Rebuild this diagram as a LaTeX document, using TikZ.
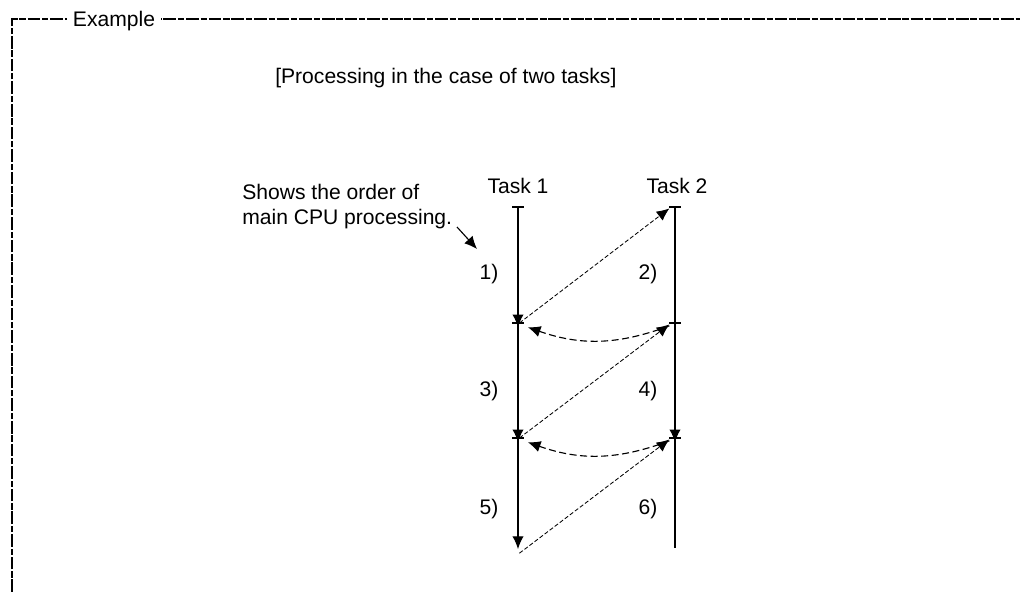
\documentclass[tikz,border=0pt]{standalone}
\usepackage{fontspec}
\setmainfont{Liberation Sans}
\usetikzlibrary{arrows.meta}

\begin{document}
\begin{tikzpicture}[x=0.025cm, y=-0.025cm, >={Latex[length=9pt,width=8pt]},
    txt/.style={font=\fontsize{15}{17.7}\selectfont, inner sep=0pt},
    frameline/.style={line width=1.1pt, dash pattern=on 9pt off 1.3pt on 4.5pt off 1.3pt},
    handoff/.style={->, dash pattern=on 3pt off 1.5pt, line width=0.6pt},
    swap/.style={->, dash pattern=on 5pt off 2.5pt, line width=0.8pt},
    tick/.style={line width=0.8pt}]
    \useasboundingbox (0,0) rectangle (1020,592);

    % Rahmen mit Titel
    \coordinate (fa) at (12,19);
    \coordinate (fb) at (1020,19);
    \coordinate (fc) at (12,592);
    \draw[frameline] (fc) -- (fa) -- (fb);
    \node[txt, anchor=base, fill=white, inner xsep=4pt, inner ysep=2pt] (title) at (114,26) {Example};

    % Ueberschrift
    \node[txt, anchor=base west] (head) at (275,83) {[Processing in the case of two tasks]};

    % Erlaeuterung mit Pfeil
    \node[txt, anchor=base west, align=left] (note) at (242,224) {Shows the order of\\main CPU processing.};
    \coordinate (na) at (457,227);
    \coordinate (nb) at (477,249);
    \draw[->, line width=0.8pt] (na) -- (nb);

    % Spaltenkoepfe
    \node[txt, anchor=base] (task1) at (518,193) {Task 1};
    \node[txt, anchor=base] (task2) at (677,193) {Task 2};

    % Zeitpunkte der beiden Tasks
    \foreach \n/\y in {a/207, b/323, c/438} {
        \coordinate (t1\n) at (518,\y);
        \coordinate (t2\n) at (675,\y);
        \draw[tick] (512,\y) -- (524,\y);
        \draw[tick] (669,\y) -- (681,\y);
    }
    \coordinate (t1d) at (518,549);
    \coordinate (t2d) at (675,548);

    % Laufzeit Task 1
    \draw[->, line width=0.8pt] (t1a) -- ([yshift=-3]t1b);
    \draw[->, line width=0.8pt] (t1b) -- ([yshift=-3]t1c);
    \draw[->, line width=0.8pt] (t1c) -- (t1d);

    % Laufzeit Task 2
    \draw[line width=0.8pt] (t2a) -- ([yshift=-5]t2b);
    \draw[->, line width=0.8pt] (t2b) -- ([yshift=-3]t2c);
    \draw[line width=0.8pt] (t2c) -- (t2d);

    % Umschaltungen Task 1 -> Task 2
    \draw[handoff] ([xshift=1]t1b) -- ([xshift=-4,yshift=-1]t2a);
    \draw[handoff] ([xshift=1]t1c) -- ([xshift=-4,yshift=-1]t2b);
    \draw[handoff] ([xshift=1,yshift=-3]t1d) -- ([xshift=-4,yshift=-1]t2c);

    % Umschaltungen Task 2 -> Task 1
    \draw[swap] ([xshift=-4,yshift=-2]t2b) to[bend left=20] ([xshift=7,yshift=-3]t1b);
    \draw[swap] ([xshift=-4,yshift=-2]t2c) to[bend left=20] ([xshift=7,yshift=-3]t1c);

    % Reihenfolge
    \node[txt] (s1) at (489,274) {1)};
    \node[txt] (s2) at (648,274) {2)};
    \node[txt] (s3) at (489,391) {3)};
    \node[txt] (s4) at (648,391) {4)};
    \node[txt] (s5) at (489,509) {5)};
    \node[txt] (s6) at (648,509) {6)};
\end{tikzpicture}
\end{document}
